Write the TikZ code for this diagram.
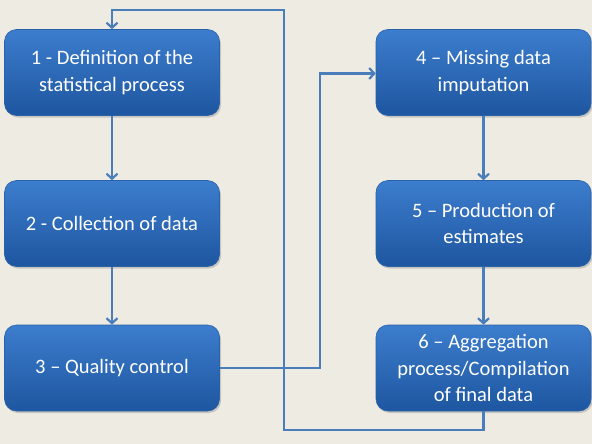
\documentclass[tikz,border=0pt]{standalone}
\usepackage{fontspec}
\setmainfont{Carlito}
\usetikzlibrary{arrows.meta,shadows}
\definecolor{bg}{HTML}{EEEBE2}
\definecolor{boxtop}{HTML}{3C7DCD}
\definecolor{boxbot}{HTML}{1E56A0}
\definecolor{boxedge}{HTML}{2A62AA}
\definecolor{conn}{HTML}{4A7EBB}
\tikzset{
  stepbox/.style={draw=boxedge, line width=0.6pt, rounded corners=12pt,
    top color=boxtop, bottom color=boxbot, text=white,
    minimum width=215pt, minimum height=86pt, align=center,
    font=\fontsize{20.5}{26.5}\selectfont, inner sep=2pt,
    drop shadow={shadow xshift=1.5pt, shadow yshift=-2pt, opacity=0.35}},
  conn/.style={draw=conn, line width=2.6pt},
  arr/.style={conn, -{Straight Barb[length=5pt,width=11pt,line width=2.2pt]}}
}
\begin{document}
\begin{tikzpicture}[x=1pt,y=-1pt]
\fill[bg] (0,0) rectangle (592,444);
\useasboundingbox (0,0) rectangle (592,444);
\node[stepbox] (b1) at (112,72.5) {1 - Definition of the\\statistical process};
\node[stepbox] (b2) at (112,223.5) {2 - Collection of data};
\node[stepbox] (b3) at (112,368) {3 -- Quality control};
\node[stepbox] (b4) at (483.5,72.5) {4 -- Missing data\\imputation};
\node[stepbox] (b5) at (483.5,223.5) {5 -- Production of\\estimates};
\node[stepbox] (b6) at (483.5,368) {6 -- Aggregation\\process/Compilation\\of final data};
\coordinate (c1) at (320,368);
\coordinate (c2) at (320,73.5);
\coordinate (d1) at (483.5,430);
\coordinate (d2) at (284,430);
\coordinate (d3) at (284,10);
\coordinate (d4) at (112,10);
\draw[arr] (b1) -- (b2);
\draw[arr] (b2) -- (b3);
\draw[arr] (b4) -- (b5);
\draw[arr] (b5) -- (b6);
\draw[arr] (b3.east) -- (c1) -- (c2) -- (b4.west |- c2);
\draw[arr] (b6.south) -- (d1) -- (d2) -- (d3) -- (d4) -- (b1.north);
\end{tikzpicture}
\end{document}
